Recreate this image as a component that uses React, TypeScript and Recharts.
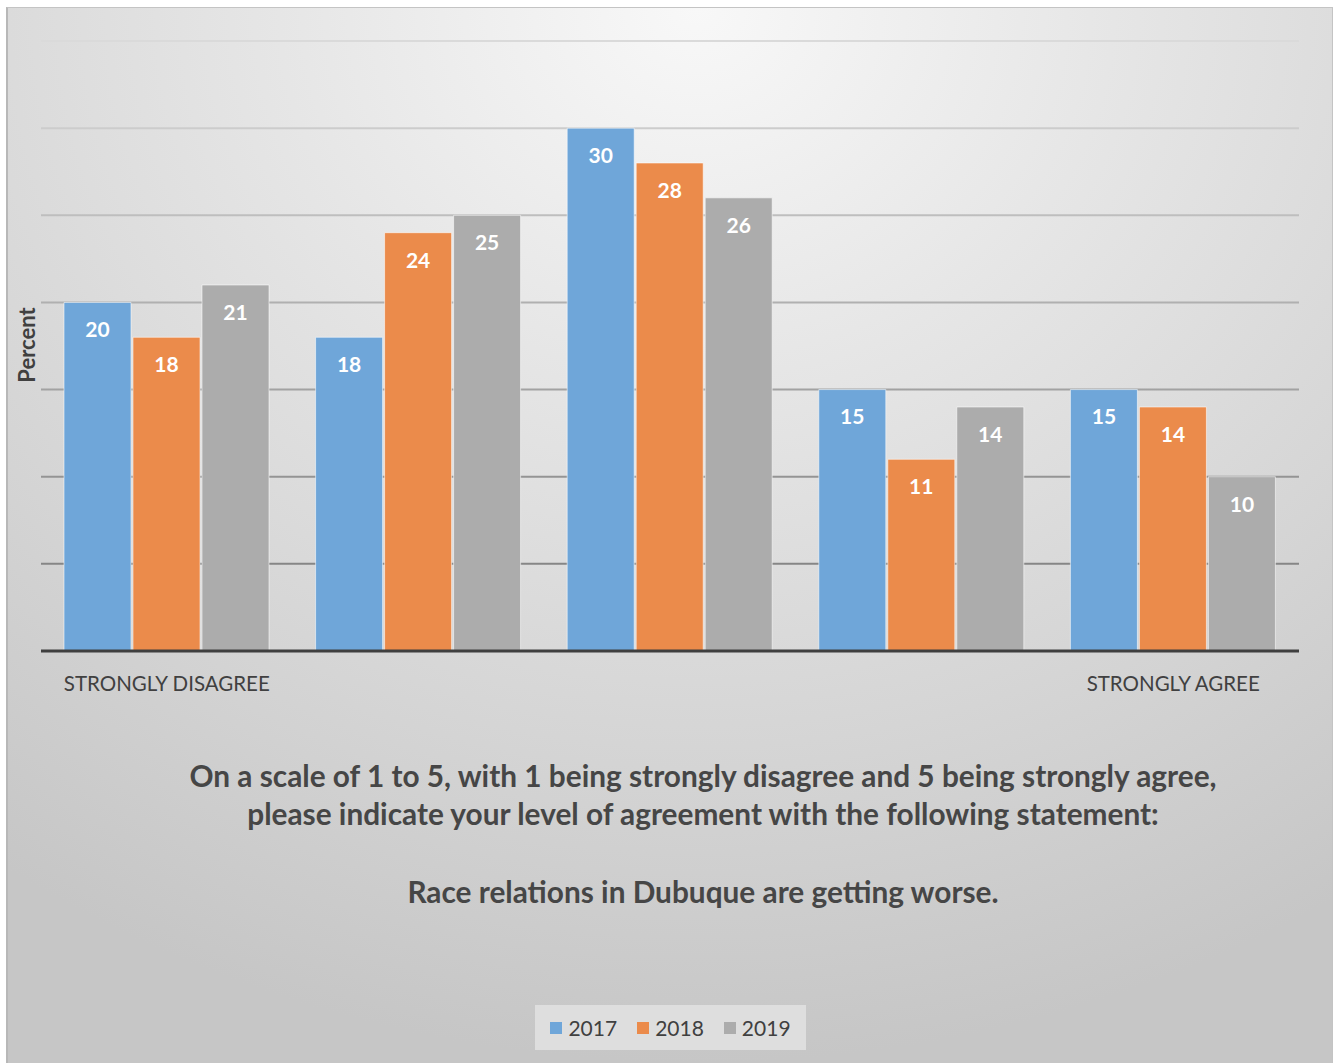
import React from 'react';
import { BarChart, Bar, XAxis, YAxis, CartesianGrid, Legend, LabelList } from 'recharts';

const categories = ['1', '2', '3', '4', '5'];
const tickLabels = ['STRONGLY DISAGREE', '', '', '', 'STRONGLY AGREE'];
const values2017 = [20, 18, 30, 15, 15];
const values2018 = [18, 24, 28, 11, 14];
const values2019 = [21, 25, 26, 14, 10];
const yTicks = [0, 5, 10, 15, 20, 25, 30, 35];
const seriesNames = ['2017', '2018', '2019'];
const seriesColors = ['#6fa6d9', '#eb8b4b', '#acacac'];
const titleLines = [
  'On a scale of 1 to 5, with 1 being strongly disagree and 5 being strongly agree,',
  'please indicate your level of agreement with the following statement:',
  '',
  'Race relations in Dubuque are getting worse.',
];

const data = categories.map((c, i) => ({
  category: c,
  '2017': values2017[i],
  '2018': values2018[i],
  '2019': values2019[i],
}));

const FONT = 'Lato, "Open Sans", sans-serif';

const LegendContent = () => (
  <div
    style={{
      width: 271,
      height: 45,
      background: '#dedede',
      display: 'flex',
      alignItems: 'center',
      justifyContent: 'center',
      gap: 20,
      fontFamily: FONT,
      fontSize: 21,
      color: '#404040',
    }}
  >
    {seriesNames.map((n, i) => (
      <div key={n} style={{ display: 'flex', alignItems: 'center' }}>
        <div style={{ width: 12, height: 12, background: seriesColors[i], marginRight: 6 }} />
        <span>{n}</span>
      </div>
    ))}
  </div>
);

const gridColor = (y: number) => {
  const t = Math.max(0, Math.min(1, (y - 41) / 610));
  const c = Math.round(0xda + (0x78 - 0xda) * t);
  return `rgb(${c},${c},${c})`;
};

const GridLine = (props: any) => {
  const { x1, y1, x2, y2 } = props;
  return <line x1={x1} y1={y1} x2={x2} y2={y2} stroke={gridColor(y1)} strokeWidth={2} />;
};

const gridYs = (p: any) => {
  const scale = p?.yAxis?.scale;
  if (scale) {
    const fn = typeof scale === 'function' ? scale : scale.map ? (v: number) => scale.map(v) : null;
    if (fn) return yTicks.map((t) => fn(t));
  }
  const top = p?.offset?.top ?? 41;
  const h = p?.offset?.height ?? 610;
  return yTicks.map((t) => top + h - (t / 35) * h);
};

export default function App() {
  return (
    <div style={{ position: 'absolute', left: 0, top: 0, width: 1339, height: 1063, background: '#ffffff' }}>
      <div
        style={{
          position: 'absolute',
          left: 6,
          top: 7,
          width: 1327,
          height: 1056,
          boxSizing: 'border-box',
          borderTop: '1px solid #c4c4c4',
          borderRight: '1px solid #c4c4c4',
          borderLeft: '2px solid #b8b8b8',
          background:
            'radial-gradient(ellipse 90% 100% at 52% 0%, #f8f8f8 0%, #e6e6e6 35%, #d5d5d5 70%, #c6c6c6 100%)',
        }}
      />
      <div style={{ position: 'absolute', left: 0, top: 0 }}>
        <BarChart
          width={1339}
          height={1063}
          data={data}
          margin={{ top: 41, left: 41, right: 40, bottom: 382 }}
          barCategoryGap={23}
          barGap={2}
        >
          <CartesianGrid vertical={false} horizontal={GridLine} horizontalCoordinatesGenerator={gridYs} />
          <XAxis
            dataKey="category"
            tickFormatter={(v: any, i: number) => tickLabels[i] ?? ''}
            axisLine={{ stroke: '#3f3f3f', strokeWidth: 3 }}
            tickLine={false}
            tickSize={0}
            tickMargin={25}
            interval={0}
            tick={{ fontFamily: FONT, fontSize: 20.5, fill: '#404040' }}
          />
          <YAxis
            domain={[0, 35]}
            ticks={yTicks}
            width={0}
            tick={false}
            axisLine={false}
            tickLine={false}
          />
          <Legend
            verticalAlign="middle"
            align="center"
            layout="horizontal"
            content={LegendContent}
            wrapperStyle={{ position: 'absolute', top: 1005, left: 535, width: 271, height: 45 }}
          />
          {seriesNames.map((n, i) => (
            <Bar
              key={n}
              dataKey={n}
              fill={seriesColors[i]}
              stroke="#ffffff"
              strokeOpacity={0.55}
              strokeWidth={1}
              isAnimationActive={false}
            >
              <LabelList
                dataKey={n}
                position="insideTop"
                offset={20}
                fill="#ffffff"
                fontFamily={FONT}
                fontWeight={700}
                fontSize={21}
              />
            </Bar>
          ))}
        </BarChart>
      </div>
      <div
        style={{
          position: 'absolute',
          left: 27 - 60,
          top: 345 - 14,
          width: 120,
          height: 28,
          lineHeight: '28px',
          textAlign: 'center',
          transform: 'rotate(-90deg)',
          fontFamily: FONT,
          fontWeight: 700,
          fontSize: 22,
          color: '#404040',
        }}
      >
        Percent
      </div>
      {titleLines.map((t, i) =>
        t ? (
          <div
            key={i}
            style={{
              position: 'absolute',
              left: 0,
              width: 1406,
              top: [776, 814, 853, 892][i] - 18,
              height: 36,
              lineHeight: '36px',
              textAlign: 'center',
              fontFamily: FONT,
              fontWeight: 700,
              fontSize: 29.8,
              color: '#464646',
              whiteSpace: 'nowrap',
            }}
          >
            {t}
          </div>
        ) : null
      )}
    </div>
  );
}
